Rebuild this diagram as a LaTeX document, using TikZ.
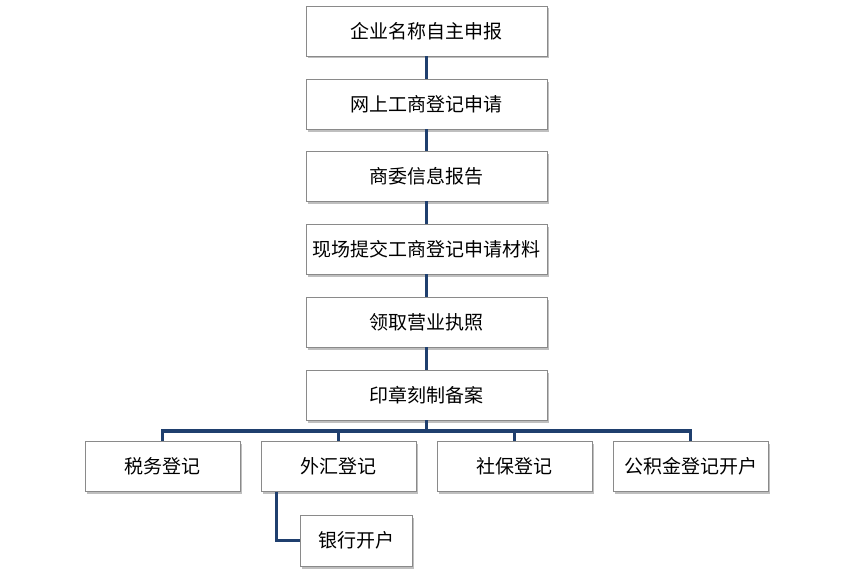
\documentclass[tikz,border=0pt]{standalone}
\usepackage{fontspec}
\newfontfamily\cjk{Noto Sans CJK SC}
\usetikzlibrary{shadows}
\definecolor{linkblue}{HTML}{1F3F6E}
\definecolor{boxgray}{HTML}{8A8A8A}
\tikzset{
  box/.style={draw=boxgray, line width=0.8pt, fill=white, minimum height=50pt, inner sep=0pt,
    font=\cjk\fontsize{19}{22}\selectfont,
    drop shadow={shadow xshift=1.5pt, shadow yshift=-2.5pt, fill=black, opacity=0.25}},
  bigbox/.style={box, minimum width=241pt},
  smallbox/.style={box, minimum width=155pt},
  bankbox/.style={box, minimum width=112pt, minimum height=51pt},
  link/.style={draw=linkblue, line width=3.5pt}
}
\begin{document}
\begin{tikzpicture}[x=1pt,y=-1pt]
\useasboundingbox (0,0) rectangle (853,578);
\node[bigbox] (b1) at (426.5,31) {企业名称自主申报};
\node[bigbox] (b2) at (426.5,104) {网上工商登记申请};
\node[bigbox] (b3) at (426.5,176) {商委信息报告};
\node[bigbox] (b4) at (426.5,249) {现场提交工商登记申请材料};
\node[bigbox] (b5) at (426.5,322) {领取营业执照};
\node[bigbox] (b6) at (426.5,395) {印章刻制备案};
\node[smallbox] (c1) at (162.5,466.5) {税务登记};
\node[smallbox] (c2) at (338.5,466.5) {外汇登记};
\node[smallbox] (c3) at (514.5,466.5) {社保登记};
\node[smallbox] (c4) at (690.5,466.5) {公积金登记开户};
\node[bankbox] (d1) at (356,540.5) {银行开户};
\coordinate (bus) at (426.5,431);
\coordinate (c2out) at ([xshift=16pt]c2.south west);
\draw[link] (b1.south) -- (b2.north);
\draw[link] (b2.south) -- (b3.north);
\draw[link] (b3.south) -- (b4.north);
\draw[link] (b4.south) -- (b5.north);
\draw[link] (b5.south) -- (b6.north);
\draw[link] (b6.south) -- (bus);
\draw[link, line join=miter] (c1.north) |- (bus) -| (c4.north);
\draw[link] (c2.north) -- (c2.north |- bus);
\draw[link] (c3.north) -- (c3.north |- bus);
\draw[link, line join=miter] (c2out) |- (d1.west);
\end{tikzpicture}
\end{document}
